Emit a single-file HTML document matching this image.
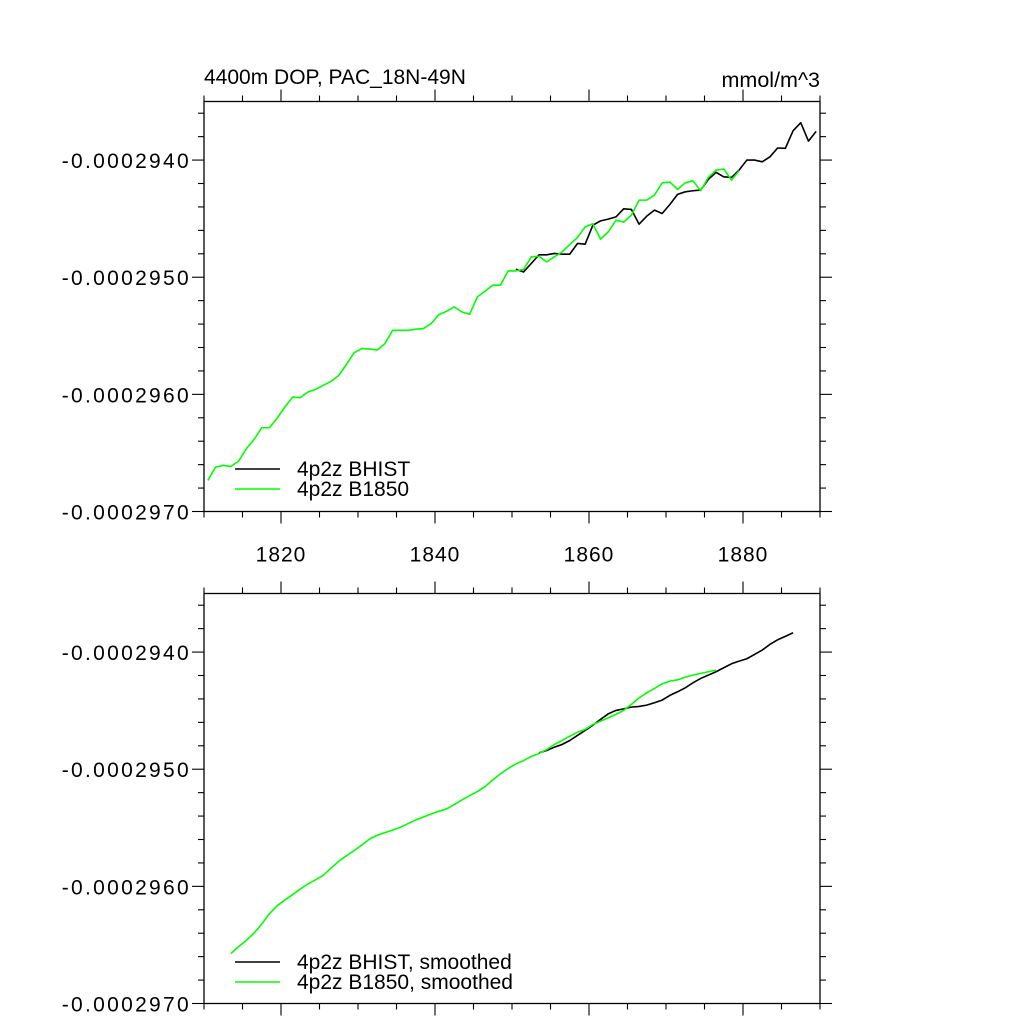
<!DOCTYPE html>
<html><head><meta charset="utf-8">
<style>
html,body{margin:0;padding:0;background:#fff;}
svg{display:block;font-family:"Liberation Sans",Arial,sans-serif;}
</style></head>
<body>
<svg id="chart" width="1024" height="1024" viewBox="0 0 1024 1024" xmlns="http://www.w3.org/2000/svg">
<rect width="1024" height="1024" fill="#fff"/>
<text x="204" y="84" font-size="21">4400m DOP, PAC_18N-49N</text>
<text x="820" y="87" font-size="21.5" text-anchor="end">mmol/m^3</text>
<g id="top"></g>
<g id="bot"></g>
</svg>
<script>
const xTickLabels = ["1820","1840","1860","1880"];
const xTickValues = [1820,1840,1860,1880];
const yTickValues = [-0.000294,-0.000295,-0.000296,-0.000297];
const yTickLabels = ["-0.0002940","-0.0002950","-0.0002960","-0.0002970"];
const xDomain = [1810,1890];
const yDomain = [-0.000297,-0.0002935];

const rawStartGreen = 1810.5;
const rawGreen = [-2967.35e-7,-2966.21e-7,-2966.07e-7,-2966.15e-7,-2965.70e-7,-2964.64e-7,-2963.85e-7,-2962.85e-7,-2962.85e-7,-2962.03e-7,-2961.09e-7,-2960.23e-7,-2960.28e-7,-2959.80e-7,-2959.57e-7,-2959.23e-7,-2958.89e-7,-2958.38e-7,-2957.44e-7,-2956.44e-7,-2956.09e-7,-2956.13e-7,-2956.21e-7,-2955.67e-7,-2954.53e-7,-2954.53e-7,-2954.53e-7,-2954.44e-7,-2954.38e-7,-2953.96e-7,-2953.19e-7,-2952.91e-7,-2952.54e-7,-2952.97e-7,-2953.16e-7,-2951.68e-7,-2951.20e-7,-2950.68e-7,-2950.68e-7,-2949.46e-7,-2949.46e-7,-2949.34e-7,-2948.26e-7,-2948.21e-7,-2948.69e-7,-2948.26e-7,-2947.84e-7,-2947.21e-7,-2946.61e-7,-2945.70e-7,-2945.44e-7,-2946.75e-7,-2946.13e-7,-2945.13e-7,-2945.30e-7,-2944.70e-7,-2943.42e-7,-2943.42e-7,-2942.99e-7,-2941.94e-7,-2941.88e-7,-2942.50e-7,-2941.94e-7,-2941.77e-7,-2942.62e-7,-2941.48e-7,-2940.85e-7,-2940.77e-7,-2941.71e-7,-2940.91e-7];
const rawStartBlack = 1850.5;
const rawBlack = [-2949.32e-7,-2949.55e-7,-2948.83e-7,-2948.09e-7,-2948.09e-7,-2947.97e-7,-2948.03e-7,-2948.03e-7,-2947.12e-7,-2947.18e-7,-2945.56e-7,-2945.19e-7,-2945.04e-7,-2944.85e-7,-2944.16e-7,-2944.21e-7,-2945.47e-7,-2944.79e-7,-2944.27e-7,-2944.56e-7,-2943.79e-7,-2942.93e-7,-2942.71e-7,-2942.62e-7,-2942.56e-7,-2941.65e-7,-2941.05e-7,-2941.43e-7,-2941.48e-7,-2940.85e-7,-2940.00e-7,-2940.00e-7,-2940.15e-7,-2939.72e-7,-2938.97e-7,-2939.00e-7,-2937.50e-7,-2936.81e-7,-2938.38e-7,-2937.55e-7];

const smoothStartGreen = 1813.5;
const smoothGreen = [-2965.73e-7,-2965.13e-7,-2964.62e-7,-2963.99e-7,-2963.22e-7,-2962.33e-7,-2961.65e-7,-2961.17e-7,-2960.71e-7,-2960.23e-7,-2959.80e-7,-2959.43e-7,-2959.06e-7,-2958.44e-7,-2957.86e-7,-2957.38e-7,-2956.95e-7,-2956.47e-7,-2955.96e-7,-2955.64e-7,-2955.41e-7,-2955.19e-7,-2954.96e-7,-2954.64e-7,-2954.33e-7,-2954.08e-7,-2953.82e-7,-2953.59e-7,-2953.39e-7,-2953.02e-7,-2952.62e-7,-2952.25e-7,-2951.91e-7,-2951.48e-7,-2950.91e-7,-2950.40e-7,-2949.94e-7,-2949.55e-7,-2949.26e-7,-2948.91e-7,-2948.66e-7,-2948.32e-7,-2947.89e-7,-2947.55e-7,-2947.18e-7,-2946.84e-7,-2946.61e-7,-2946.18e-7,-2945.90e-7,-2945.62e-7,-2945.32e-7,-2944.98e-7,-2944.47e-7,-2943.91e-7,-2943.48e-7,-2943.10e-7,-2942.71e-7,-2942.48e-7,-2942.37e-7,-2942.14e-7,-2941.97e-7,-2941.82e-7,-2941.68e-7,-2941.54e-7];
const smoothStartBlack = 1853.5;
const smoothBlack = [-2948.61e-7,-2948.40e-7,-2948.12e-7,-2947.89e-7,-2947.55e-7,-2947.12e-7,-2946.69e-7,-2946.24e-7,-2945.75e-7,-2945.27e-7,-2944.98e-7,-2944.85e-7,-2944.70e-7,-2944.64e-7,-2944.53e-7,-2944.33e-7,-2944.10e-7,-2943.70e-7,-2943.39e-7,-2943.05e-7,-2942.62e-7,-2942.25e-7,-2941.97e-7,-2941.68e-7,-2941.34e-7,-2941.00e-7,-2940.77e-7,-2940.57e-7,-2940.20e-7,-2939.83e-7,-2939.34e-7,-2938.95e-7,-2938.66e-7,-2938.35e-7];

const NS="http://www.w3.org/2000/svg";
function mk(parent,tag,attrs){const e=document.createElementNS(NS,tag);for(const k in attrs)e.setAttribute(k,attrs[k]);parent.appendChild(e);return e;}

function panel(g, top, showXLabels, series, legendLabels, legendY){
  const L=204,R=820,T=top,B=top+410;
  const xs=v=>L+(v-xDomain[0])/(xDomain[1]-xDomain[0])*(R-L);
  const ys=v=>B-(v-yDomain[0])/(yDomain[1]-yDomain[0])*(B-T);
  const frame=mk(g,'rect',{x:L,y:T,width:R-L,height:B-T,fill:'none',stroke:'#000','stroke-width':1.3});
  
  
  for(let v=xDomain[0];v<=xDomain[1];v+=5){
    const major=xTickValues.includes(v);const len=major?12:6;const x=xs(v);
    const t1=mk(g,'line',{x1:x,x2:x,y1:B,y2:B+len,stroke:'#000','stroke-width':1.1});
    
    
    const t2=mk(g,'line',{x1:x,x2:x,y1:T,y2:T-len,stroke:'#000','stroke-width':1.1});
    
    
  }
  if(showXLabels){
    xTickValues.forEach((v,i)=>{
      const t=mk(g,'text',{x:xs(v),y:B+50,'font-size':21,'letter-spacing':1,'text-anchor':'middle'});
      t.textContent=xTickLabels[i];
      
      
    });
  }
  for(let k=0;k<=17;k++){
    const v=yDomain[0]+k*0.2e-6; if(v>yDomain[1]+1e-12)break;
    const major=k%5===0;const len=major?12:6;const y=ys(v);
    const t1=mk(g,'line',{x1:L,x2:L-len,y1:y,y2:y,stroke:'#000','stroke-width':1.1});
    
    
    const t2=mk(g,'line',{x1:R,x2:R+len,y1:y,y2:y,stroke:'#000','stroke-width':1.1});
    
    
  }
  yTickValues.forEach((v,i)=>{
    const t=mk(g,'text',{x:191,y:ys(v)+8,'font-size':21,'letter-spacing':2.3,'text-anchor':'end'});
    t.textContent=yTickLabels[i];
    
    
  });
  series.forEach((s,si)=>{
    const pts=s.vals.map((v,i)=>xs(s.start+i).toFixed(2)+','+ys(v).toFixed(2)).join(' ');
    const p=mk(g,'polyline',{points:pts,fill:'none',stroke:s.color,'stroke-width':1.6,'stroke-linejoin':'round'});
    
    
  });
  legendLabels.forEach((lab,i)=>{
    const y=legendY+i*20;
    const ln=mk(g,'line',{x1:235,x2:280,y1:y,y2:y,stroke:series[i].color,'stroke-width':1.6});
    
    
    const t=mk(g,'text',{x:297,y:y+7,'font-size':21});
    t.textContent=lab;
    
    
  });
}
panel(document.getElementById('top'),101.5,true,
  [{vals:rawBlack,start:rawStartBlack,color:'#000',name:'bhist-line'},{vals:rawGreen,start:rawStartGreen,color:'#00ff00',name:'b1850-line'}],
  ['4p2z BHIST','4p2z B1850'],469);
panel(document.getElementById('bot'),593.5,false,
  [{vals:smoothBlack,start:smoothStartBlack,color:'#000',name:'bhist-smoothed-line'},{vals:smoothGreen,start:smoothStartGreen,color:'#00ff00',name:'b1850-smoothed-line'}],
  ['4p2z BHIST, smoothed','4p2z B1850, smoothed'],962);
</script>
</body></html>
